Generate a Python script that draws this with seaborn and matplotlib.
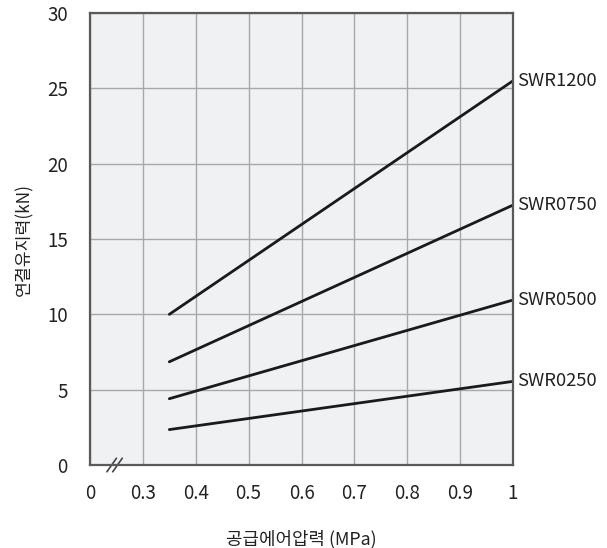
import matplotlib
matplotlib.use("Agg")
import matplotlib.pyplot as plt
import seaborn as sns
import pandas as pd

sns.set_theme(style="white")
plt.rcParams['font.family'] = ['Noto Sans CJK KR', 'DejaVu Sans']

pressure = [0.35, 1.0]
series_names = ["SWR1200", "SWR0750", "SWR0500", "SWR0250"]
swr1200 = [10.0, 25.5]
swr0750 = [6.85, 17.25]
swr0500 = [4.4, 10.95]
swr0250 = [2.35, 5.55]
x_ticks = [0.2, 0.3, 0.4, 0.5, 0.6, 0.7, 0.8, 0.9, 1.0]
x_tick_labels = ["0", "0.3", "0.4", "0.5", "0.6", "0.7", "0.8", "0.9", "1"]
y_ticks = [0, 5, 10, 15, 20, 25, 30]

rows = []
for name, vals in zip(series_names, [swr1200, swr0750, swr0500, swr0250]):
    for x, y in zip(pressure, vals):
        rows.append({"x": x, "y": y, "series": name})
df = pd.DataFrame(rows)

fig = plt.figure(figsize=(6.07, 5.48), dpi=100)
ax = fig.add_axes([90/607, 1-465/548, (513-90)/607, (465-13)/548])
ax.set_facecolor("#f0f1f3")

sns.lineplot(data=df, x="x", y="y", units="series", estimator=None,
             color="#1a1a1a", linewidth=2.0, ax=ax, legend=False)

ax.set_xlim(0.2, 1.0)
ax.set_ylim(0, 30)
ax.set_xticks(x_ticks)
ax.set_xticklabels(x_tick_labels)
ax.set_yticks(y_ticks)
ax.grid(True, color="#a8a8a8", linewidth=1.0)
ax.set_axisbelow(True)
for s in ax.spines.values():
    s.set_color("#5a5a5a")
    s.set_linewidth(1.6)
ax.tick_params(axis="both", length=0, labelsize=13.5, colors="#222222")
ax.tick_params(axis="x", pad=13)
ax.tick_params(axis="y", pad=16)

for name, vals in zip(series_names, [swr1200, swr0750, swr0500, swr0250]):
    ax.text(pressure[-1] + 0.008, vals[-1], name, fontsize=13.3, color="#222222",
            va="center", ha="left", clip_on=False)

# axis break marks
for dx in [0.0, 0.011]:
    ax.plot([0.232 + dx, 0.25 + dx], [-0.45, 0.45], color="#444444",
            linewidth=1.2, clip_on=False, transform=ax.transData)

ax.set_xlabel("공급에어압력 (MPa)", fontsize=12.9, color="#222222", labelpad=19)
ax.set_ylabel("연결유지력(kN)", fontsize=12.4, color="#222222", labelpad=10)

fig.savefig("out.png", dpi=100)
